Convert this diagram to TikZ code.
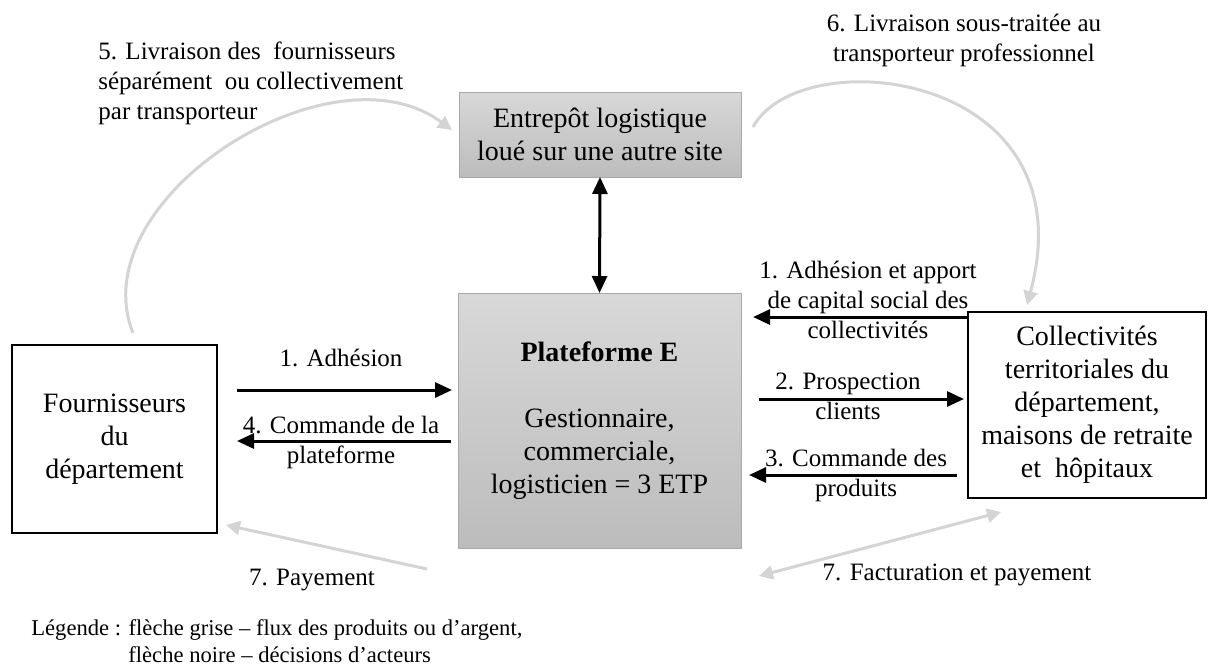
\documentclass[tikz,border=0pt]{standalone}
\usepackage{fontspec}
\setmainfont{Liberation Serif}
\usetikzlibrary{arrows.meta}
\definecolor{flowgray}{HTML}{D4D4D4}
\definecolor{boxtop}{HTML}{D8D8D8}
\definecolor{boxbot}{HTML}{BCBCBC}
\definecolor{boxedge}{HTML}{A8A8A8}
\newcommand\bxfont{\fontsize{14}{16.5}\selectfont}
\newcommand\lbfont{\fontsize{12.5}{15}\selectfont}
\newcommand\lgfont{\fontsize{11.3}{12.5}\selectfont}
\tikzset{
  graybox/.style={draw=boxedge, line width=0.5pt, top color=boxtop, bottom color=boxbot,
    inner sep=0pt, outer sep=0pt, align=center, font=\bxfont},
  whitebox/.style={draw=black, line width=1pt, fill=white,
    inner sep=0pt, outer sep=0pt, align=center, font=\bxfont},
  lbl/.style={inner sep=0pt, align=center, font=\lbfont},
  leg/.style={inner sep=0pt, anchor=west, font=\lgfont},
  blkarrow/.style={draw=black, line width=1.5pt, -{Triangle[length=8.5pt,width=7.5pt]}},
  blkdouble/.style={draw=black, line width=1.5pt, {Triangle[length=8.5pt,width=7.5pt]}-{Triangle[length=8.5pt,width=7.5pt]}},
  grayarrow/.style={draw=flowgray, line width=1.5pt, -{Triangle[length=7pt,width=7pt]}},
  graydouble/.style={draw=flowgray, line width=1.5pt, {Triangle[length=7pt,width=7pt]}-{Triangle[length=7pt,width=7pt]}}
}
\begin{document}
\begin{tikzpicture}[x=0.5pt,y=-0.5pt]
\useasboundingbox (0,0) rectangle (1208,666);
\fill[white] (0,0) rectangle (1208,666);

% boxes
\node[graybox, minimum width=141pt, minimum height=42.5pt] (ent) at (600,134.5)
  {Entrepôt logistique\\loué sur une autre site};
\node[graybox, minimum width=141.5pt, minimum height=127.5pt] (plat) at (599.5,420.5)
  {\textbf{Plateforme E}\\[16.5pt]Gestionnaire,\\commerciale,\\logisticien = 3 ETP};
\node[whitebox, minimum width=102.5pt, minimum height=94pt] (four) at (114.5,439)
  {Fournisseurs\\du\\département};
\node[whitebox, minimum width=119pt, minimum height=93pt] (coll) at (1087,405)
  {Collectivités\\territoriales du\\département,\\maisons de retraite\\et~~hôpitaux};

% labels
\node[lbl, anchor=west, align=left] (l5) at (98,83)
  {5. Livraison des~~fournisseurs\\séparément~~ou collectivement\\par transporteur};
\node[lbl] (l6) at (964,40) {6. Livraison sous-traitée au\\transporteur professionnel};
\node[lbl] (la1) at (341,358) {1. Adhésion};
\node[lbl] (la4) at (341,442) {4. Commande de la\\plateforme};
\node[lbl] (lb1) at (868,300) {1. Adhésion et apport\\de capital social des\\collectivités};
\node[lbl] (lb2) at (848,396) {2. Prospection\\clients};
\node[lbl] (lb3) at (856,475) {3. Commande des\\produits};
\node[lbl] (l7a) at (312,580) {7. Payement};
\node[lbl] (l7b) at (957,575) {7. Facturation et payement};
\node[leg] (lg1) at (31,630) {Légende : flèche grise – flux des produits ou d’argent,};
\node[leg] (lg2) at (128,655) {flèche noire – décisions d’acteurs};

% coordinates for free ends
\coordinate (a1s) at (237,390); \coordinate (a1e) at (452,390);
\coordinate (a4s) at (451,441); \coordinate (a4e) at (237,441);
\coordinate (b1s) at (967,317); \coordinate (b1e) at (753,317);
\coordinate (b2s) at (759,399); \coordinate (b2e) at (964,399);
\coordinate (b3s) at (957,475); \coordinate (b3e) at (749,475);
\coordinate (g5s) at (133,333); \coordinate (g5e) at (452,130);
\coordinate (g6s) at (753,127); \coordinate (g6e) at (1027,305);
\coordinate (p7s) at (427,569); \coordinate (p7e) at (226,525);
\coordinate (f7s) at (759,576); \coordinate (f7e) at (1001,512);

% black arrows
\draw[blkdouble] (ent.south) -- (plat.north);
\draw[blkarrow] (a1s) -- (a1e);
\draw[blkarrow] (a4s) -- (a4e);
\draw[blkarrow] (b1s) -- (b1e);
\draw[blkarrow] (b2s) -- (b2e);
\draw[blkarrow] (b3s) -- (b3e);

% gray arrows
\draw[grayarrow] (g5s) .. controls (80,200) and (330,40) .. (g5e);
\draw[grayarrow] (g6s) .. controls (800,40) and (1090,70) .. (g6e);
\draw[grayarrow] (p7s) -- (p7e);
\draw[graydouble] (f7s) -- (f7e);
\end{tikzpicture}
\end{document}
